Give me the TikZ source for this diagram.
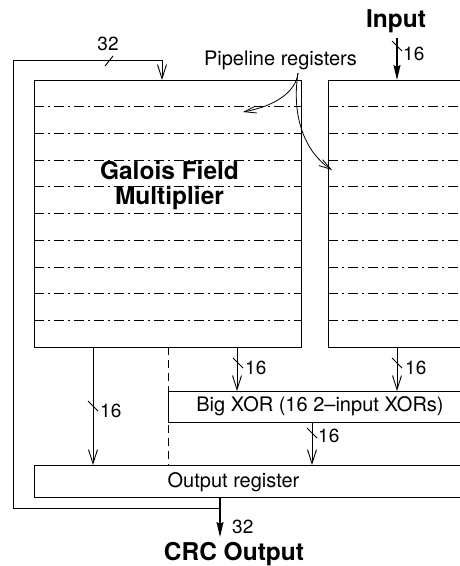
\documentclass[tikz,border=0pt]{standalone}
\usepackage{fontspec}
\setmainfont{TeX Gyre Heros}
\usetikzlibrary{arrows.meta,calc}
\begin{document}
\begin{tikzpicture}[x=1pt,y=-1pt,
  wire/.style={line width=0.9pt},
  box/.style={draw, line width=0.9pt, rectangle, inner sep=0pt, outer sep=0pt},
  pipe/.style={line width=0.8pt, dash pattern=on 10pt off 4pt on 2pt off 4pt},
  arr/.style={wire, -{Straight Barb[length=14pt,width=9pt]}},
  thinarr/.style={line width=0.8pt, -{Straight Barb[length=12pt,width=7pt]}},
  bigarr/.style={line width=1.6pt, -{Stealth[length=15pt,width=7pt,inset=2pt]}},
  lbl/.style={font=\fontsize{19}{21}\selectfont, inner sep=0pt, anchor=base west},
  txt/.style={font=\fontsize{20}{23}\selectfont, inner sep=0pt},
  title/.style={font=\fontsize{24.5}{25}\selectfont\bfseries, inner sep=0pt},
  busmark/.pic={\draw[wire] (-5pt,5pt) -- (5pt,-5pt);},
  busmarkh/.pic={\draw[wire] (-4pt,-5pt) -- (4pt,5pt);},
]
\clip (0,0) rectangle (460,566);

% blocks
\node[box, minimum width=267pt, minimum height=267pt] (gf) at (167.5,213.5) {};
\node[box, minimum width=152pt, minimum height=267pt] (rb) at (404,213.5) {};
\node[box, txt, minimum width=304pt, minimum height=31pt] (xor) at (320,406.5) {Big XOR (16 2--input XORs)};
\node[box, minimum width=446pt, minimum height=32pt] (outreg) at (257,481) {};
\node[txt, anchor=base] (outtxt) at (233.5,487) {Output register};

% pipeline register boundaries
\foreach \k in {1,...,9} {
  \draw[pipe] ($(gf.north west)!\k/10!(gf.south west)$) -- ($(gf.north east)!\k/10!(gf.south east)$);
  \draw[pipe] ($(rb.north west)!\k/10!(rb.south west)$) -- ($(rb.north east)!\k/10!(rb.south east)$);
}

% texts
\node[title, align=center] (gfl) at (169.5,186) {Galois Field\\Multiplier};
\node[txt, anchor=base] (plr) at (280.5,65) {Pipeline registers};
\node[title, anchor=base] (inp) at (396,27) {Input};
\node[title, anchor=base] (crc) at (234,560) {CRC Output};

% pipeline register pointers
\coordinate (pr) at (298,73);
\draw[thinarr] (pr) .. controls (296,92) and (275,106) .. (243,112);
\draw[thinarr] (pr) .. controls (291,118) and (306,153) .. (332,170);

% input
\coordinate (in1) at (397,38);
\draw[bigarr] (in1) -- (in1 |- rb.north);
\pic at (397,46) {busmark};
\node[lbl] (l1) at (403,60) {16};

% multiplier and input paths into the XOR
\coordinate (g1) at (237,347);
\draw[arr] (g1) -- (g1 |- xor.north);
\pic at (238,363) {busmark};
\node[lbl] (l2) at (245,374) {16};

\coordinate (r1) at (397,347);
\draw[arr] (r1) -- (r1 |- xor.north);
\pic at (397,363) {busmark};
\node[lbl] (l3) at (405,374) {16};

% direct path to output register
\coordinate (g2) at (93,347);
\draw[arr] (g2) -- (g2 |- outreg.north);
\pic at (93,406) {busmark};
\node[lbl] (l4) at (100,417) {16};

% split between halves
\coordinate (g3) at (168,347);
\draw[wire, dash pattern=on 8pt off 5pt] (g3) -- (g3 |- outreg.north);

% XOR to output register
\coordinate (x1) at (312,422);
\draw[arr] (x1) -- (x1 |- outreg.north);
\pic at (312,433) {busmark};
\node[lbl] (l5) at (318,442) {16};

% CRC output
\coordinate (o1) at (220,497);
\coordinate (o2) at (220,537);
\draw[bigarr] (o1) -- (o2);
\node[lbl] (l6) at (232,533) {32};

% feedback loop
\coordinate (fb0) at (220,508);
\coordinate (fb1) at (13,508);
\coordinate (fb2) at (13,60);
\coordinate (fb3) at (162,60);
\draw[arr] (fb0) -- (fb1) -- (fb2) -- (fb3) -- (fb3 |- gf.north);
\pic at (109,61) {busmarkh};
\node[lbl, anchor=base] (l7) at (108,50) {32};
\end{tikzpicture}
\end{document}
